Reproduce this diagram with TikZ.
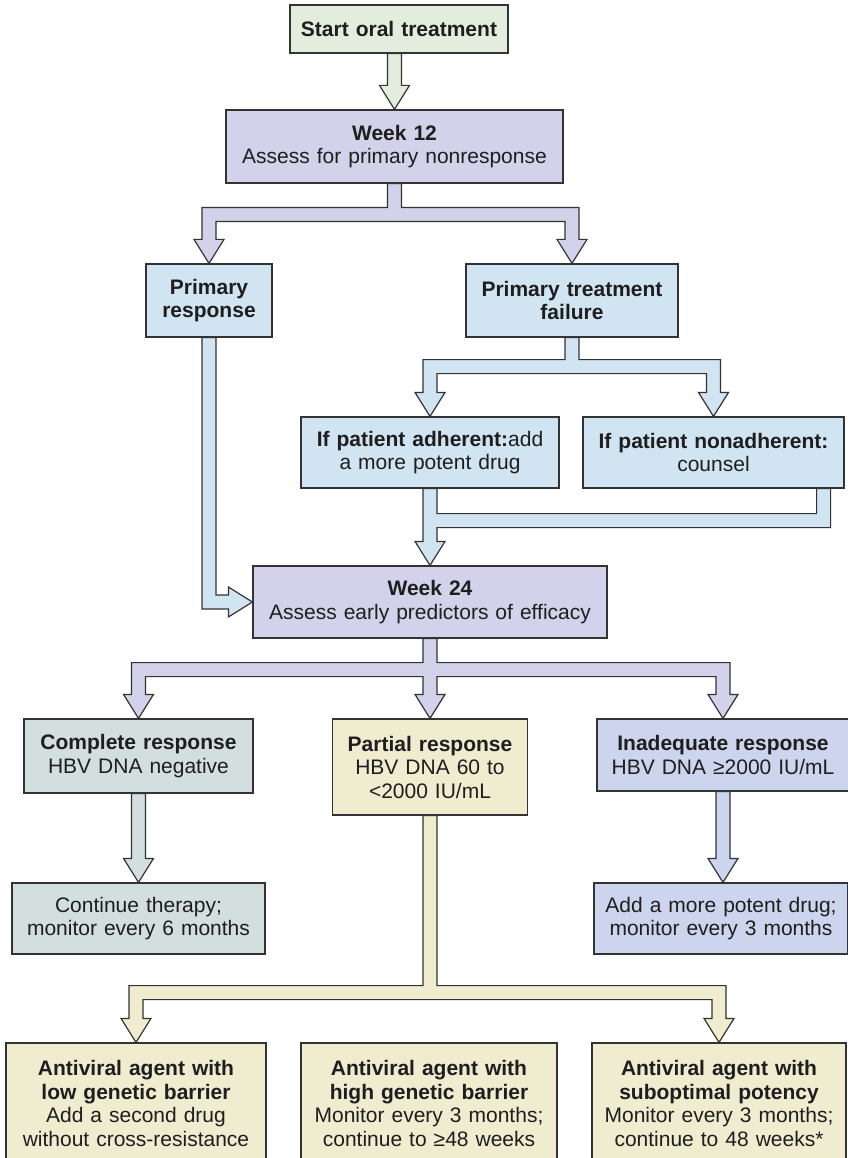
\documentclass[tikz,border=0pt]{standalone}
\usepackage{fontspec}
\setmainfont{Liberation Sans}
\usetikzlibrary{calc}

\definecolor{cgreen}{HTML}{E3EDDD}
\definecolor{clav}{HTML}{D3D2EA}
\definecolor{cblue}{HTML}{D1E4F2}
\definecolor{cteal}{HTML}{D3DEDE}
\definecolor{cbeige}{HTML}{F0ECD0}
\definecolor{cperi}{HTML}{CCD5ED}
\definecolor{cline}{HTML}{333333}
\definecolor{ctext}{HTML}{1E1E1E}

% straight wide arrow: fill, top point, tip point (x taken from the tip)
\newcommand\vArrow[3]{%
  \draw[fatline,fill=#1] let \p1=#2, \p2=#3 in
    (\x2-7pt,\y1) -- (\x2-7pt,\y2+24pt) -- (\x2-15pt,\y2+24pt) -- (\p2)
    -- (\x2+15pt,\y2+24pt) -- (\x2+7pt,\y2+24pt) -- (\x2+7pt,\y1) -- cycle;}

% wide arrow splitting into two: fill, source, left target, right target, bar drop
\newcommand\splitTwo[5]{%
  \draw[fatline,fill=#1] let \p1=(#2.south), \p2=(#3.north), \p3=(#4.north) in
    (\x1-7pt,\y1) -- (\x1-7pt,\y1-#5) -- (\x2-7pt,\y1-#5) -- (\x2-7pt,\y2+24pt)
    -- (\x2-15pt,\y2+24pt) -- (\p2) -- (\x2+15pt,\y2+24pt) -- (\x2+7pt,\y2+24pt)
    -- (\x2+7pt,\y1-#5-14pt) -- (\x3-7pt,\y1-#5-14pt) -- (\x3-7pt,\y3+24pt)
    -- (\x3-15pt,\y3+24pt) -- (\p3) -- (\x3+15pt,\y3+24pt) -- (\x3+7pt,\y3+24pt)
    -- (\x3+7pt,\y1-#5) -- (\x1+7pt,\y1-#5) -- (\x1+7pt,\y1) -- cycle;}

\tikzset{
  box/.style={draw=cline, line width=1.2pt, rectangle, inner sep=0pt,
    align=center, text=ctext, font=\fontsize{21}{23.5}\selectfont},
  fatline/.style={draw=cline, line width=1.2pt, line join=miter}
}

\begin{document}
\begin{tikzpicture}[x=1pt,y=-1pt]
\useasboundingbox (0,0) rectangle (847,1158);

% boxes
\node[box,fill=cgreen,text width=218pt,minimum height=48pt] (start) at (399,29)
  {\textbf{Start oral treatment}};
\node[box,fill=clav,text width=337pt,minimum height=73pt] (week12) at (394.5,146.5)
  {\textbf{Week 12}\\Assess for primary nonresponse};
\node[box,fill=cblue,text width=126pt,minimum height=73pt] (presp) at (209,300.5)
  {\textbf{Primary}\\\textbf{response}};
\node[box,fill=cblue,text width=212pt,minimum height=73pt] (pfail) at (572,300.5)
  {\textbf{Primary treatment}\\\textbf{failure}};
\node[box,fill=cblue,text width=258pt,minimum height=71pt] (adh) at (430,452.5)
  {\textbf{If patient adherent:}add\\a more potent drug};
\node[box,fill=cblue,text width=261pt,minimum height=71pt] (nonadh) at (713.5,452.5)
  {\textbf{If patient nonadherent:}\\counsel};
\node[box,fill=clav,text width=354pt,minimum height=72pt] (week24) at (430,602)
  {\textbf{Week 24}\\Assess early predictors of efficacy};
\node[box,fill=cteal,text width=229pt,minimum height=74pt] (comp) at (138.5,756)
  {\textbf{Complete response}\\HBV DNA negative};
\node[box,fill=cbeige,text width=195pt,minimum height=96pt] (part) at (430,767)
  {\textbf{Partial response}\\HBV DNA 60 to\\<2000 IU/mL};
\node[box,fill=cperi,text width=252pt,minimum height=72pt] (inad) at (723,755)
  {\textbf{Inadequate response}\\HBV DNA ≥2000 IU/mL};
\node[box,fill=cteal,text width=253pt,minimum height=71pt] (cont) at (138.5,918.5)
  {Continue therapy;\\monitor every 6 months};
\node[box,fill=cperi,text width=254pt,minimum height=71pt] (add) at (721,918.5)
  {Add a more potent drug;\\monitor every 3 months};
\node[box,fill=cbeige,text width=260pt,minimum height=121pt] (low) at (136,1103.5)
  {\textbf{Antiviral agent with}\\\textbf{low genetic barrier}\\Add a second drug\\without cross-resistance};
\node[box,fill=cbeige,text width=256pt,minimum height=121pt] (high) at (429,1103.5)
  {\textbf{Antiviral agent with}\\\textbf{high genetic barrier}\\Monitor every 3 months;\\continue to ≥48 weeks};
\node[box,fill=cbeige,text width=254pt,minimum height=121pt] (subopt) at (719,1103.5)
  {\textbf{Antiviral agent with}\\\textbf{suboptimal potency}\\Monitor every 3 months;\\continue to 48 weeks*};

% straight connectors
\vArrow{cgreen}{(start.south)}{(week12.north)}
\vArrow{cteal}{(comp.south)}{(comp.south |- cont.north)}
\vArrow{cperi}{(inad.south)}{(inad.south |- add.north)}

% branching connectors
\splitTwo{clav}{week12}{presp}{pfail}{24pt}
\splitTwo{cblue}{pfail}{adh}{nonadh}{22pt}
\splitTwo{cbeige}{part}{low}{subopt}{170pt}

% primary response joins week 24 from the left
\draw[fatline,fill=cblue] let \p1=(presp.south), \p2=(week24.west) in
  (\x1-7pt,\y1) -- (\x1-7pt,\y2-7pt) -- (\x2-24pt,\y2-7pt) -- (\x2-24pt,\y2-15pt)
  -- (\p2) -- (\x2-24pt,\y2+15pt) -- (\x2-24pt,\y2+7pt) -- (\x1+7pt,\y2+7pt)
  -- (\x1+7pt,\y1) -- cycle;

% both adherence outcomes merge into week 24
\draw[fatline,fill=cblue] let \p1=(adh.south), \p2=(nonadh.south east), \p3=(week24.north) in
  (\x3-7pt,\y1) -- (\x3-7pt,\y3+24pt) -- (\x3-15pt,\y3+24pt) -- (\p3)
  -- (\x3+15pt,\y3+24pt) -- (\x3+7pt,\y3+24pt) -- (\x3+7pt,\y1-39pt)
  -- (\x2-14pt,\y1-39pt) -- (\x2-14pt,\y2) -- (\x2-28pt,\y2) -- (\x2-28pt,\y1-25pt)
  -- (\x3+7pt,\y1-25pt) -- (\x3+7pt,\y1) -- cycle;

% week 24 splits three ways
\draw[fatline,fill=clav] let \p1=(week24.south), \p2=(comp.north), \p3=(part.north), \p4=(inad.north) in
  (\x1-7pt,\y1) -- (\x1-7pt,\y1-24pt) -- (\x2-7pt,\y1-24pt) -- (\x2-7pt,\y2+24pt)
  -- (\x2-15pt,\y2+24pt) -- (\p2) -- (\x2+15pt,\y2+24pt) -- (\x2+7pt,\y2+24pt)
  -- (\x2+7pt,\y1-38pt) -- (\x3-7pt,\y1-38pt) -- (\x3-7pt,\y3+24pt)
  -- (\x3-15pt,\y3+24pt) -- (\p3) -- (\x3+15pt,\y3+24pt) -- (\x3+7pt,\y3+24pt)
  -- (\x3+7pt,\y1-38pt) -- (\x4-7pt,\y1-38pt) -- (\x4-7pt,\y4+24pt)
  -- (\x4-15pt,\y4+24pt) -- (\p4) -- (\x4+15pt,\y4+24pt) -- (\x4+7pt,\y4+24pt)
  -- (\x4+7pt,\y1-24pt) -- (\x1+7pt,\y1-24pt) -- (\x1+7pt,\y1) -- cycle;
\end{tikzpicture}
\end{document}
